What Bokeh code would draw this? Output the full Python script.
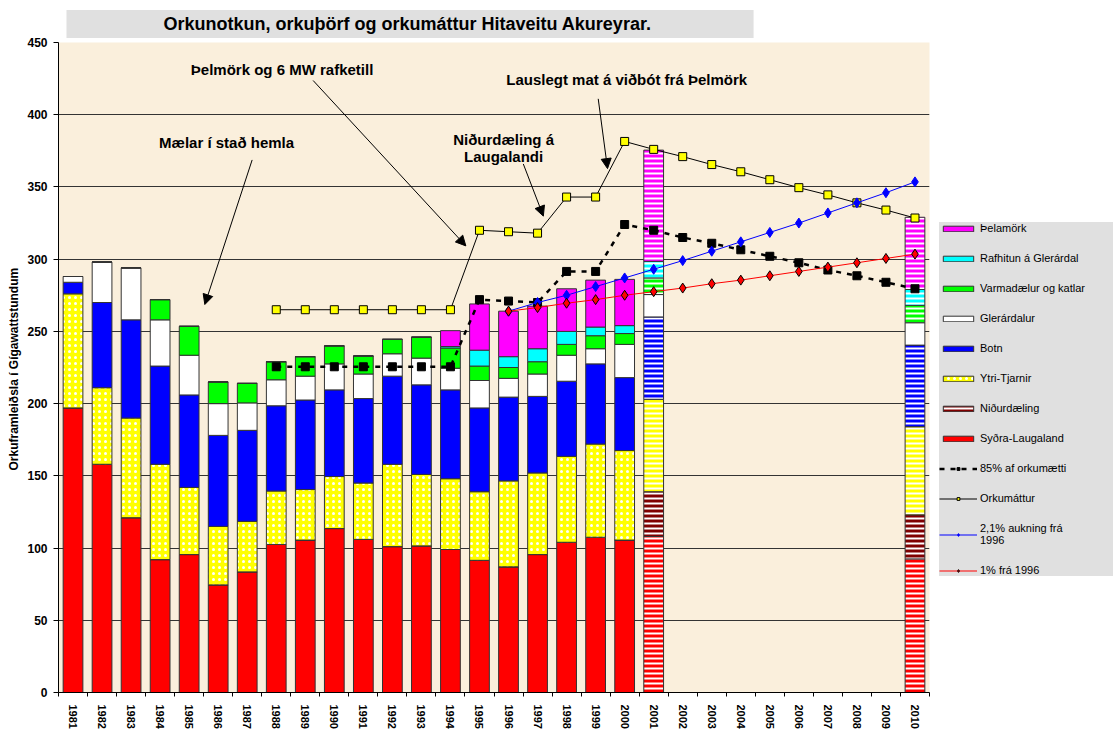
import math
from bokeh.plotting import figure
from bokeh.models import (ColumnDataSource, FixedTicker, Legend, LegendItem, Arrow,
                          NormalHead, Title, Range1d)
from bokeh.core.properties import value
from bokeh.embed import file_html
from bokeh.resources import INLINE

# ---------------- data ----------------
title_text = "Orkunotkun,  orkuþörf og orkumáttur Hitaveitu Akureyrar."
y_label = "Orkuframleiðsla í  Gígawattstundum"
all_years = list(range(1981, 2011))
year_labels = [str(y) for y in all_years]

series = ["Syðra-Laugaland", "Niðurdæling", "Ytri-Tjarnir", "Botn", "Glerárdalur",
          "Varmadælur og katlar", "Rafhitun á Glerárdal", "Þelamörk"]
colors = ["#FF0000", "#800000", "#FFFF00", "#0000FF", "#FFFFFF",
          "#00FF00", "#00FFFF", "#FF00FF"]

hist_years = list(range(1981, 2001))
syora = [197, 158, 121, 92, 95.5, 74.5, 83.5, 102.5, 105.5, 113.5,
         106, 101, 101.5, 99, 91.5, 87, 95.5, 104, 107.5, 105.5]
nidurd = [0] * 20
ytri = [79, 53, 69, 66, 46.5, 40.5, 35, 37, 35, 36,
        39, 57, 49.5, 49, 47.5, 59.5, 56.5, 59.5, 64.5, 62]
botn = [8, 59, 68, 68, 64, 63, 63, 59, 62, 60,
        58.5, 61, 62, 61.5, 58, 58, 53, 52, 55.5, 50.5]
glerard = [4, 28, 36, 32, 27.5, 22, 19, 18, 16.5, 18,
           17, 15.5, 18.5, 15, 19, 13, 15.5, 18, 10.5, 23]
varmad = [0, 0, 0, 14, 20, 15, 13.5, 12.5, 13.5, 12.5,
          12.5, 10, 14.5, 14, 10, 7.5, 8.5, 7.5, 9, 7.5]
rafhit = [0, 0, 0, 0, 0, 0, 0, 0, 0, 0,
          0, 0, 0, 1, 11, 7.5, 9, 9, 6, 5.5]
thelam = [0, 0, 0, 0, 0, 0, 0, 0, 0, 0,
          0, 0, 0, 11, 32, 31.5, 29.5, 29.5, 32.5, 32]

fc_years = [2001, 2010]
fc_syora = [108, 92.5]
fc_nidurd = [31, 30.5]
fc_ytri = [64, 61]
fc_botn = [57, 56.5]
fc_glerard = [15.5, 15.5]
fc_varmad = [11.5, 12]
fc_rafhit = [11.5, 11]
fc_thelam = [77, 50]

ork_years = list(range(1988, 2011))
orkumattur = [265, 265, 265, 265, 265, 265, 265, 320, 319, 318, 343, 343, 381.5,
              376, 371, 365.5, 360.5, 355, 349.5, 344.5, 339, 334, 328.5]
p85 = [225.5, 225.5, 225.5, 225.5, 225.5, 225.5, 225.5, 272, 271, 270, 291.5, 291.5, 324,
       320, 315, 311, 306.5, 302, 297.5, 292.5, 288.5, 284, 279.5]

trend_years = list(range(1996, 2011))
aukning21 = [264, 270, 275, 281, 287, 293, 299, 305.5, 312, 318.5, 325, 332, 339, 346, 353.5]
aukning1 = [264, 266.5, 269.5, 272, 275, 277.5, 280, 283, 285.5, 288.5, 291.5, 294.5, 297.5, 300.5, 303.5]

line_labels = ["85% af orkumætti", "Orkumáttur", "2,1% aukning frá\n1996", "1% frá 1996"]

annotations = ["Mælar í stað hemla", "Þelmörk og 6 MW rafketill", "Niðurdæling á",
               "Laugalandi", "Lauslegt mat á viðbót frá Þelmörk"]

# ---------------- figure ----------------
FONT = "Liberation Sans"
p = figure(frame_width=871, frame_height=650, min_border_left=58, min_border_right=178,
           min_border_top=42, min_border_bottom=10,
           x_range=Range1d(1980.5, 2010.5), y_range=Range1d(0, 450),
           output_backend="svg", toolbar_location=None,
           background_fill_color="#FAEFDC", border_fill_color="white",
           outline_line_color=None)

t = Title(text=title_text, align="left", offset=8, text_font=FONT,
          text_font_size="18px", text_font_style="bold", text_color="black",
          background_fill_color="#E0E0E0",
          padding=dict(left=97, right=97, top=4, bottom=4), standoff=9)
p.add_layout(t, "above")

hist_src = ColumnDataSource(dict(year=hist_years, **dict(zip(series, [
    syora, nidurd, ytri, botn, glerard, varmad, rafhit, thelam]))))
fc_src = ColumnDataSource(dict(year=fc_years, **dict(zip(series, [
    fc_syora, fc_nidurd, fc_ytri, fc_botn, fc_glerard, fc_varmad, fc_rafhit, fc_thelam]))))

hist_hatch = [None, None, "dot", None, None, None, None, None]
hist_r = p.vbar_stack(series, x="year", width=0.68, source=hist_src,
                      fill_color=colors, line_color="#333333", line_width=1,
                      hatch_pattern=hist_hatch, hatch_color="white",
                      hatch_scale=6, hatch_weight=0.6)
fc_r = p.vbar_stack(series, x="year", width=0.68, source=fc_src,
                    fill_color=colors, line_color="#333333", line_width=1,
                    hatch_pattern="horizontal_line", hatch_color="white",
                    hatch_scale=5, hatch_weight=2)

# lines
r85l = p.line(ork_years, p85, line_color="black", line_width=2.5, line_dash="5 6")
r85s = p.scatter(ork_years, p85, marker="square", size=8, fill_color="black", line_color="black")
rokl = p.line(ork_years, orkumattur, line_color="black", line_width=1)
roks = p.scatter(ork_years, orkumattur, marker="square", size=8, fill_color="#FFFF00",
                 line_color="black", line_width=1)
rbl = p.line(trend_years, aukning21, line_color="#0000FF", line_width=1)
rbs = p.scatter(trend_years, aukning21, marker="diamond", size=10, fill_color="#0000FF",
                line_color="#0000FF")
rrl = p.line(trend_years, aukning1, line_color="#FF0000", line_width=1)
rrs = p.scatter(trend_years, aukning1, marker="diamond", size=10, fill_color="#FF0000",
                line_color="black", line_width=1)

# annotations
ann_x = [1986.29, 1988.2, 1995.83, 1995.83, 2000.07]
ann_y = [380.6, 431.4, 382.9, 371.0, 424.2]
p.text(x=ann_x, y=ann_y, text=annotations, text_font=value(FONT), text_font_style="bold",
       text_font_size="15px", text_align="center", text_baseline="middle", text_color="black")
arrows = [((1987.17, 368.7), (1985.54, 268.6)),
          ((1989.27, 423.7), (1994.53, 309.2)),
          ((1996.51, 365.9), (1997.2, 329.8)),
          ((1999.09, 411.0), (1999.41, 362.7))]
for (xs, ys), (xe, ye) in arrows:
    p.add_layout(Arrow(end=NormalHead(size=10, fill_color="black", line_color="black"),
                       x_start=xs, y_start=ys, x_end=xe, y_end=ye,
                       line_color="black", line_width=1))

# axes
p.xgrid.grid_line_color = None
p.ygrid.grid_line_color = "#333333"
p.ygrid.grid_line_width = 1
p.ygrid.ticker = FixedTicker(ticks=list(range(0, 451, 50)))

p.xaxis.ticker = FixedTicker(ticks=all_years, minor_ticks=[y + 0.5 for y in range(1980, 2011)])
p.xaxis.major_label_overrides = dict(zip(all_years, year_labels))
p.xaxis.major_label_orientation = -math.pi / 2
p.xaxis.major_tick_line_color = None
p.xaxis.major_tick_in = 0
p.xaxis.major_tick_out = 0
p.xaxis.minor_tick_in = 0
p.xaxis.minor_tick_out = 4
p.xaxis.minor_tick_line_color = "black"
p.xaxis.major_label_standoff = 8
p.xaxis.major_label_text_font = FONT
p.xaxis.major_label_text_font_style = "bold"
p.xaxis.major_label_text_font_size = "11px"
p.xaxis.major_label_text_color = "black"
p.xaxis.axis_line_color = "black"

p.yaxis.ticker = FixedTicker(ticks=list(range(0, 451, 50)))
p.yaxis.major_tick_in = 0
p.yaxis.major_tick_out = 5
p.yaxis.minor_tick_line_color = None
p.yaxis.major_label_standoff = 6
p.yaxis.major_label_text_font = FONT
p.yaxis.major_label_text_font_style = "bold"
p.yaxis.major_label_text_font_size = "12px"
p.yaxis.major_label_text_color = "black"
p.yaxis.axis_label = y_label
p.yaxis.axis_label_text_font = FONT
p.yaxis.axis_label_text_font_style = "bold"
p.yaxis.axis_label_text_font_size = "12px"
p.yaxis.axis_label_text_color = "black"
p.yaxis.axis_label_standoff = 3
p.yaxis.axis_line_color = "black"

# legend
items = []
for i in reversed(range(len(series))):
    r = fc_r[i] if series[i] == "Niðurdæling" else hist_r[i]
    items.append(LegendItem(label=series[i], renderers=[r]))
items.append(LegendItem(label=line_labels[0], renderers=[r85l, r85s]))
items.append(LegendItem(label=line_labels[1], renderers=[rokl, roks]))
items.append(LegendItem(label=line_labels[2], renderers=[rbl, rbs]))
items.append(LegendItem(label=line_labels[3], renderers=[rrl, rrs]))

legend = Legend(items=items, location=(10, 116), orientation="vertical",
                background_fill_color="#E0E0E0", background_fill_alpha=1,
                border_line_color=None, label_text_font=FONT, label_text_font_size="11px",
                label_text_color="black", glyph_width=38, glyph_height=7, label_height=12,
                label_width=133, spacing=18, padding=5, margin=0, label_standoff=3)
p.add_layout(legend, "right")

open("out.html", "w").write(file_html(p, INLINE))
